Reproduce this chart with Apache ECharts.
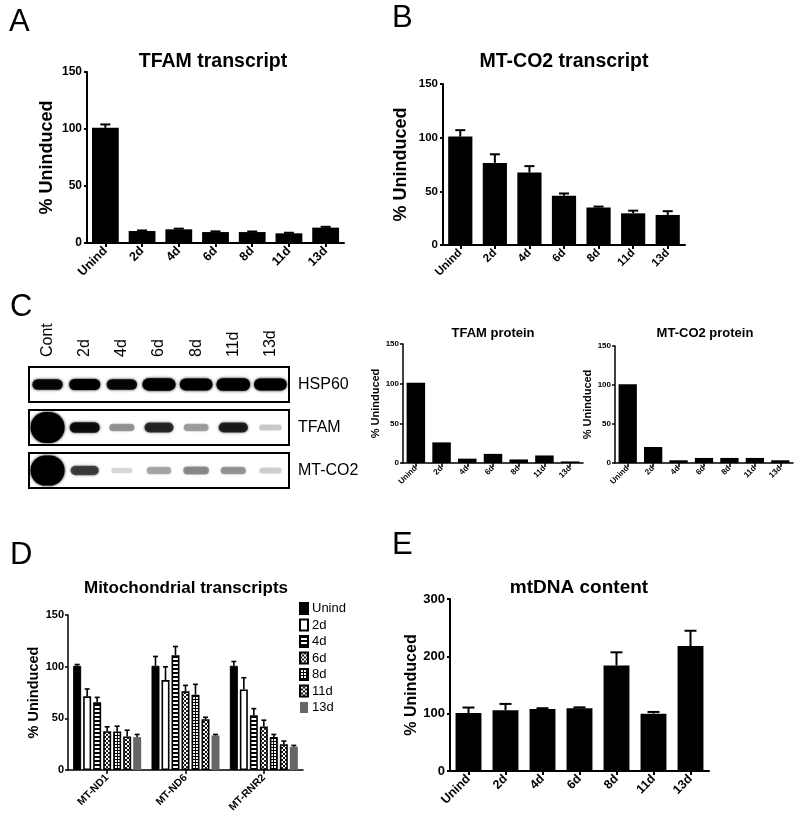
<!DOCTYPE html>
<html><head><meta charset="utf-8">
<script src="https://cdn.jsdelivr.net/npm/echarts@6/dist/echarts.min.js"></script>
<style>html,body{margin:0;padding:0;background:#fff}#c{width:800px;height:829px}</style>
</head><body><div id="c"></div>
<script>
// ---------- data ----------
const categories = ['Unind', '2d', '4d', '6d', '8d', '11d', '13d'];

const tfamTranscript = [101, 10.5, 12, 9.6, 9.6, 8.5, 13.5];
const tfamTranscriptSem = [3, 0.5, 0.6, 0.6, 0.5, 0.5, 0.7];

const mtco2Transcript = [101, 76.5, 67.5, 46, 35, 29.5, 28];
const mtco2TranscriptSem = [6, 8, 6, 2, 0.8, 2.5, 3.5];

const tfamProtein = [101, 26, 5.5, 11.5, 4.5, 9.5, 2];
const mtco2Protein = [101, 20.5, 3.5, 6.5, 6.5, 6.5, 3.5];

const lanes = ['Cont', '2d', '4d', '6d', '8d', '11d', '13d'];
const blotRows = ['HSP60', 'TFAM', 'MT-CO2'];
const hsp60Signal = [0.9, 1.0, 0.9, 1.4, 1.3, 1.5, 1.3];
const tfamSignal = [18, 0.85, 0.28, 0.7, 0.25, 0.75, 0.1];
const mtco2Signal = [14, 0.6, 0.04, 0.22, 0.32, 0.28, 0.08];

const genes = ['MT-ND1', 'MT-ND6', 'MT-RNR2'];
const dUnind = [100.9, 100.9, 100.9];
const dUnindSem = [1.2, 9, 4.1];
const d2d = [71.3, 87, 78];
const d2dSem = [7.1, 12.9, 11.3];
const d4d = [65.5, 111.1, 53];
const d4dSem = [4.8, 8.4, 6.4];
const d6d = [37.6, 76.1, 42];
const d6dSem = [4.2, 5.8, 6.2];
const d8d = [37.3, 72.9, 32];
const d8dSem = [5.1, 10, 2.4];
const d11d = [32.4, 49.1, 25];
const d11dSem = [6.1, 1.9, 3];
const d13d = [31.8, 33.4, 22.5];
const d13dSem = [2.6, 1, 1.3];

const mtdnaContent = [101, 106, 108, 109.5, 184, 100, 218];
const mtdnaContentSem = [9.7, 11, 1.5, 1.5, 23, 3, 26.6];

// ---------- helpers ----------
const FONT = '"Liberation Sans", Arial, Helvetica, sans-serif';

function makePattern(kind) {
  const c = document.createElement('canvas');
  const ctx = c.getContext('2d');
  if (kind === 'hstripe') {
    c.width = 4; c.height = 4;
    ctx.fillStyle = '#fff'; ctx.fillRect(0, 0, 4, 4);
    ctx.fillStyle = '#000'; ctx.fillRect(0, 0, 4, 2);
  } else if (kind === 'checker') {
    c.width = 4; c.height = 4;
    ctx.fillStyle = '#fff'; ctx.fillRect(0, 0, 4, 4);
    ctx.fillStyle = '#222';
    ctx.fillRect(0, 0, 2, 2); ctx.fillRect(2, 2, 2, 2);
  } else if (kind === 'checker2') {
    c.width = 4; c.height = 4;
    ctx.fillStyle = '#fff'; ctx.fillRect(0, 0, 4, 4);
    ctx.fillStyle = '#111';
    ctx.fillRect(1, 0, 2, 1); ctx.fillRect(0, 1, 1, 2); ctx.fillRect(3, 1, 1, 2); ctx.fillRect(1, 3, 2, 1);
  } else if (kind === 'grid') {
    c.width = 3; c.height = 3;
    ctx.fillStyle = '#fff'; ctx.fillRect(0, 0, 3, 3);
    ctx.fillStyle = '#000'; ctx.fillRect(0, 0, 3, 1); ctx.fillRect(0, 0, 1, 3);
  }
  return { image: c, repeat: 'repeat' };
}

function xCat(gridIndex, data, fs, lw, margin) {
  return {
    type: 'category', gridIndex, data,
    axisLine: { show: true, onZero: false, lineStyle: { color: '#000', width: lw } },
    axisTick: { show: true, alignWithLabel: true, length: 4, lineStyle: { color: '#000', width: lw } },
    axisLabel: { rotate: 45, interval: 0, fontFamily: FONT, fontWeight: 'bold', fontSize: fs, color: '#000', margin },
    splitLine: { show: false }
  };
}
function yVal(gridIndex, max, interval, fs, lw, nameFs, nameGap, margin) {
  return {
    type: 'value', gridIndex, min: 0, max, interval,
    name: '% Uninduced', nameLocation: 'middle', nameRotate: 90, nameGap,
    nameTextStyle: { fontFamily: FONT, fontWeight: 'bold', fontSize: nameFs, color: '#000' },
    axisLine: { show: true, lineStyle: { color: '#000', width: lw } },
    axisTick: { show: true, length: 3, lineStyle: { color: '#000', width: lw } },
    axisLabel: { fontFamily: FONT, fontWeight: 'bold', fontSize: fs, color: '#000', margin },
    splitLine: { show: false }
  };
}
function barSeries(ai, values, width, name, itemStyle) {
  return {
    type: 'bar', name, xAxisIndex: ai, yAxisIndex: ai, data: values,
    barWidth: width, itemStyle: itemStyle || { color: '#000' }, silent: true, z: 2
  };
}
function errSeries(ai, values, sem, capW, lw, offset) {
  return {
    type: 'custom', xAxisIndex: ai, yAxisIndex: ai, silent: true, z: 5,
    data: values.map((v, i) => [i, v, v + sem[i]]),
    encode: { x: 0, y: [1, 2] },
    renderItem: function (params, api) {
      const i = api.value(0);
      const base = api.coord([i, api.value(1)]);
      const top = api.coord([i, api.value(2)]);
      const x = base[0] + (offset || 0);
      return {
        type: 'group', children: [
          { type: 'line', shape: { x1: x, y1: base[1], x2: x, y2: top[1] }, style: { stroke: '#000', lineWidth: lw } },
          { type: 'line', shape: { x1: x - capW / 2, y1: top[1], x2: x + capW / 2, y2: top[1] }, style: { stroke: '#000', lineWidth: lw } }
        ]
      };
    }
  };
}

const chart = echarts.init(document.getElementById('c'), null, { renderer: 'canvas' });

const titleStyle = (fs) => ({ fontFamily: FONT, fontWeight: 'bold', fontSize: fs, color: '#000' });
const letter = (t, x, y) => ({ type: 'text', left: x, top: y, style: { text: t, fontFamily: FONT, fontSize: 31, fill: '#000' } });

// D series definitions
const dSets = [
  { name: 'Unind', v: dUnind, s: dUnindSem, style: { color: '#000', borderColor: '#000', borderWidth: 1 } },
  { name: '2d', v: d2d, s: d2dSem, style: { color: '#fff', borderColor: '#000', borderWidth: 1.6 } },
  { name: '4d', v: d4d, s: d4dSem, style: { color: makePattern('hstripe'), borderColor: '#000', borderWidth: 1.6 } },
  { name: '6d', v: d6d, s: d6dSem, style: { color: makePattern('checker'), borderColor: '#000', borderWidth: 1.6 } },
  { name: '8d', v: d8d, s: d8dSem, style: { color: makePattern('grid'), borderColor: '#000', borderWidth: 1.6 } },
  { name: '11d', v: d11d, s: d11dSem, style: { color: makePattern('checker2'), borderColor: '#000', borderWidth: 1.6 } },
  { name: '13d', v: d13d, s: d13dSem, style: { color: '#666', borderColor: '#666', borderWidth: 0 } }
];
const dBarW = 8, dGap = 2;
const dSeries = [];
dSets.forEach((d) => {
  dSeries.push({
    type: 'bar', name: d.name, xAxisIndex: 4, yAxisIndex: 4, data: d.v,
    barWidth: dBarW, barGap: (dGap / dBarW * 100) + '%', itemStyle: d.style, silent: true, z: 2
  });
});
dSets.forEach((d, k) => {
  const off = (k - (dSets.length - 1) / 2) * (dBarW + dGap);
  dSeries.push(errSeries(4, d.v, d.s, 5, 1.6, off));
});

// blot data
const blotBands = [];
[hsp60Signal, tfamSignal, mtco2Signal].forEach((row, r) => row.forEach((s, l) => blotBands.push([l, r, s])));

const option = {
  animation: false,
  backgroundColor: '#fff',
  title: [
    { text: 'TFAM transcript', left: 213, top: 52, textAlign: 'center', padding: 0, textStyle: titleStyle(19.5) },
    { text: 'MT-CO2 transcript', left: 564, top: 52, textAlign: 'center', padding: 0, textStyle: titleStyle(19.5) },
    { text: 'TFAM protein', left: 493, top: 327, textAlign: 'center', padding: 0, textStyle: titleStyle(13) },
    { text: 'MT-CO2 protein', left: 705, top: 327, textAlign: 'center', padding: 0, textStyle: titleStyle(13) },
    { text: 'Mitochondrial transcripts', left: 186, top: 580, textAlign: 'center', padding: 0, textStyle: titleStyle(17) },
    { text: 'mtDNA content', left: 579, top: 578, textAlign: 'center', padding: 0, textStyle: titleStyle(19) }
  ],
  legend: {
    data: dSets.map(d => d.name), orient: 'vertical', left: 299, top: 602,
    itemWidth: 8, itemHeight: 11, itemGap: 3.5, padding: 0, icon: 'rect',
    textStyle: { fontFamily: FONT, fontSize: 13, color: '#000', padding: [0, 0, 0, -1] },
    selectedMode: false
  },
  grid: [
    { left: 87, top: 72, width: 257, height: 171, outerBoundsMode: 'none' },
    { left: 443, top: 84, width: 242, height: 161, outerBoundsMode: 'none' },
    { left: 403, top: 344, width: 180, height: 119, outerBoundsMode: 'none' },
    { left: 615, top: 346, width: 178, height: 117, outerBoundsMode: 'none' },
    { left: 68, top: 615, width: 235, height: 155, outerBoundsMode: 'none' },
    { left: 450, top: 599, width: 259, height: 172, outerBoundsMode: 'none' },
    { left: 29, top: 363, width: 260, height: 129, outerBoundsMode: 'none' }
  ],
  xAxis: [
    xCat(0, categories, 12.5, 2, 6),
    xCat(1, categories, 11.5, 2, 6),
    xCat(2, categories, 8, 1.5, 4),
    xCat(3, categories, 8, 1.5, 4),
    xCat(4, genes, 10.5, 1.5, 6),
    xCat(5, categories, 12.5, 2, 6),
    {
      type: 'category', gridIndex: 6, data: lanes, position: 'top',
      axisLine: { show: false }, axisTick: { show: false }, splitLine: { show: false },
      axisLabel: { rotate: -90, interval: 0, margin: 6, fontFamily: FONT, fontSize: 16, color: '#000' }
    }
  ],
  yAxis: [
    yVal(0, 150, 50, 12, 2, 18, 31, 5),
    yVal(1, 150, 50, 11.5, 2, 18, 33, 5),
    yVal(2, 150, 50, 8, 1.5, 11, 21, 4),
    yVal(3, 150, 50, 8, 1.5, 11, 16, 4),
    yVal(4, 150, 50, 11, 1.5, 14.5, 22, 4),
    yVal(5, 300, 100, 13, 2, 16, 29, 5),
    {
      type: 'category', gridIndex: 6, data: blotRows, inverse: true, position: 'right',
      axisLine: { show: false }, axisTick: { show: false }, splitLine: { show: false },
      axisLabel: { margin: 9, fontFamily: FONT, fontSize: 16, color: '#000' }
    }
  ],
  graphic: [
    letter('A', 9, 7), letter('B', 392, 3), letter('C', 10, 292), letter('D', 10, 540), letter('E', 392, 530)
  ],
  series: [
    barSeries(0, tfamTranscript, '73%'),
    errSeries(0, tfamTranscript, tfamTranscriptSem, 10, 2),
    barSeries(1, mtco2Transcript, '70%'),
    errSeries(1, mtco2Transcript, mtco2TranscriptSem, 10, 2),
    barSeries(2, tfamProtein, '72%'),
    barSeries(3, mtco2Protein, '72%'),
    ...dSeries,
    barSeries(5, mtdnaContent, '70%'),
    errSeries(5, mtdnaContent, mtdnaContentSem, 12, 2),
    {
      type: 'custom', xAxisIndex: 6, yAxisIndex: 6, silent: true, z: 3,
      data: blotRows.map((r, i) => [0, i]),
      renderItem: function (params, api) {
        const cs = params.coordSys;
        const c = api.coord([0, api.value(1)]);
        return { type: 'rect', shape: { x: cs.x, y: c[1] - 17.5, width: cs.width, height: 35 },
          style: { fill: 'none', stroke: '#000', lineWidth: 2 } };
      }
    },
    {
      type: 'custom', xAxisIndex: 6, yAxisIndex: 6, silent: true, z: 2,
      data: blotBands,
      renderItem: function (params, api) {
        const c = api.coord([api.value(0), api.value(1)]);
        const s = api.value(2);
        const w = Math.min(34, 19 + 12 * Math.sqrt(s));
        const h = Math.min(31, 4 + 7 * Math.sqrt(s));
        const a = Math.min(1, 0.1 + 0.9 * s);
        return { type: 'rect', shape: { x: c[0] - w / 2, y: c[1] - h / 2, width: w, height: h, r: h / 2 },
          style: { fill: 'rgba(0,0,0,' + a + ')', shadowBlur: 3, shadowColor: 'rgba(0,0,0,' + a + ')' } };
      }
    }
  ]
};
chart.setOption(option);
</script>
</body></html>
